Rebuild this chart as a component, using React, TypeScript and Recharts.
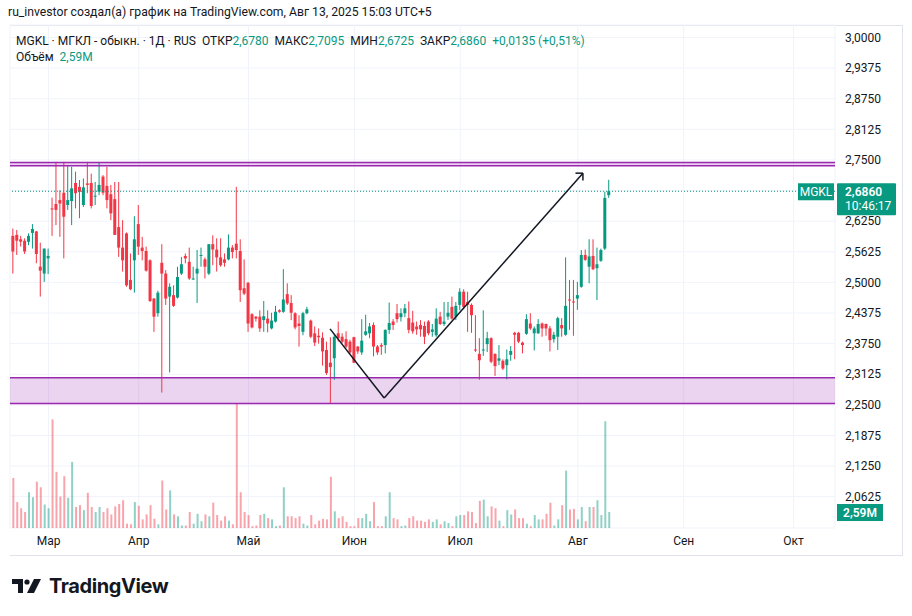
import React from 'react';
import { ComposedChart, Bar, XAxis, YAxis, CartesianGrid, ReferenceLine, ReferenceArea, Cell } from 'recharts';

// daily candles, oldest first
const opens = [
  2.595, 2.597, 2.588, 2.585, 2.583, 2.601, 2.604, 2.532, 2.518, 2.549,
  2.651, 2.660, 2.668, 2.683, 2.658, 2.666, 2.703, 2.695, 2.658, 2.702,
  2.703, 2.675, 2.685, 2.716, 2.697, 2.680, 2.670, 2.613, 2.571, 2.600,
  2.505, 2.545, 2.619, 2.571, 2.564, 2.545, 2.467, 2.437, 2.540, 2.518,
  2.471, 2.474, 2.469, 2.518, 2.554, 2.542, 2.506, 2.518, 2.554, 2.547,
  2.518, 2.578, 2.567, 2.551, 2.547, 2.547, 2.571, 2.579, 2.564, 2.488,
  2.499, 2.435, 2.430, 2.430, 2.423, 2.426, 2.406, 2.420, 2.443, 2.440,
  2.476, 2.458, 2.437, 2.416, 2.399, 2.437, 2.422, 2.396, 2.391, 2.387,
  2.362, 2.336, 2.345, 2.396, 2.389, 2.384, 2.379, 2.388, 2.369, 2.357,
  2.393, 2.396, 2.413, 2.369, 2.372, 2.372, 2.403, 2.420, 2.437, 2.429,
  2.437, 2.427, 2.418, 2.410, 2.413, 2.411, 2.420, 2.399, 2.392, 2.430,
  2.415, 2.430, 2.450, 2.430, 2.454, 2.481, 2.460, 2.454, 2.363, 2.354,
  2.362, 2.374, 2.386, 2.354, 2.340, 2.340, 2.331, 2.352, 2.397, 2.397,
  2.377, 2.395, 2.416, 2.396, 2.396, 2.416, 2.415, 2.406, 2.384, 2.389,
  2.413, 2.393, 2.465, 2.461, 2.467, 2.491, 2.556, 2.532, 2.554, 2.529,
  2.544, 2.569, 2.678,
];
const highs = [
  2.610, 2.607, 2.595, 2.590, 2.600, 2.619, 2.605, 2.581, 2.569, 2.569,
  2.673, 2.746, 2.688, 2.746, 2.739, 2.736, 2.726, 2.709, 2.712, 2.746,
  2.722, 2.705, 2.746, 2.719, 2.736, 2.699, 2.705, 2.705, 2.627, 2.602,
  2.559, 2.635, 2.658, 2.593, 2.573, 2.547, 2.468, 2.483, 2.578, 2.525,
  2.498, 2.494, 2.532, 2.552, 2.559, 2.571, 2.532, 2.566, 2.571, 2.551,
  2.578, 2.596, 2.590, 2.590, 2.559, 2.598, 2.576, 2.695, 2.588, 2.547,
  2.501, 2.437, 2.431, 2.443, 2.462, 2.443, 2.438, 2.452, 2.445, 2.527,
  2.498, 2.474, 2.439, 2.433, 2.440, 2.450, 2.424, 2.410, 2.406, 2.398,
  2.379, 2.388, 2.395, 2.420, 2.396, 2.400, 2.383, 2.389, 2.370, 2.425,
  2.434, 2.417, 2.418, 2.372, 2.376, 2.404, 2.459, 2.425, 2.456, 2.447,
  2.456, 2.461, 2.442, 2.420, 2.423, 2.420, 2.423, 2.415, 2.447, 2.440,
  2.460, 2.460, 2.471, 2.460, 2.488, 2.486, 2.481, 2.457, 2.433, 2.386,
  2.443, 2.399, 2.388, 2.355, 2.372, 2.343, 2.363, 2.370, 2.399, 2.399,
  2.379, 2.435, 2.437, 2.410, 2.425, 2.418, 2.416, 2.411, 2.399, 2.430,
  2.427, 2.551, 2.505, 2.505, 2.501, 2.566, 2.567, 2.588, 2.588, 2.571,
  2.569, 2.685, 2.7095,
];
const lows = [
  2.518, 2.556, 2.573, 2.558, 2.576, 2.569, 2.539, 2.471, 2.501, 2.517,
  2.595, 2.617, 2.593, 2.549, 2.648, 2.617, 2.651, 2.631, 2.654, 2.682,
  2.651, 2.658, 2.678, 2.678, 2.651, 2.627, 2.597, 2.552, 2.522, 2.491,
  2.484, 2.479, 2.556, 2.545, 2.522, 2.460, 2.399, 2.430, 2.275, 2.454,
  2.316, 2.450, 2.467, 2.515, 2.539, 2.505, 2.505, 2.458, 2.532, 2.508,
  2.515, 2.535, 2.522, 2.532, 2.532, 2.545, 2.549, 2.549, 2.460, 2.474,
  2.399, 2.406, 2.420, 2.399, 2.399, 2.398, 2.404, 2.418, 2.438, 2.438,
  2.454, 2.423, 2.404, 2.369, 2.392, 2.435, 2.386, 2.370, 2.375, 2.330,
  2.311, 2.253, 2.301, 2.379, 2.376, 2.366, 2.354, 2.335, 2.354, 2.352,
  2.391, 2.386, 2.349, 2.352, 2.352, 2.355, 2.395, 2.403, 2.418, 2.420,
  2.429, 2.396, 2.395, 2.393, 2.389, 2.374, 2.392, 2.389, 2.389, 2.413,
  2.411, 2.423, 2.424, 2.423, 2.443, 2.445, 2.399, 2.397, 2.358, 2.301,
  2.350, 2.358, 2.335, 2.309, 2.331, 2.321, 2.302, 2.340, 2.343, 2.376,
  2.355, 2.393, 2.403, 2.361, 2.395, 2.389, 2.391, 2.359, 2.377, 2.362,
  2.389, 2.391, 2.403, 2.391, 2.444, 2.489, 2.544, 2.498, 2.525, 2.464,
  2.542, 2.566, 2.6725,
];
const closes = [
  2.563, 2.585, 2.583, 2.563, 2.595, 2.609, 2.558, 2.524, 2.569, 2.554,
  2.649, 2.648, 2.661, 2.634, 2.668, 2.692, 2.682, 2.685, 2.694, 2.699,
  2.656, 2.677, 2.699, 2.683, 2.668, 2.641, 2.597, 2.571, 2.545, 2.494,
  2.486, 2.588, 2.573, 2.564, 2.524, 2.462, 2.430, 2.479, 2.518, 2.467,
  2.491, 2.452, 2.511, 2.537, 2.549, 2.508, 2.508, 2.528, 2.556, 2.532,
  2.578, 2.567, 2.551, 2.535, 2.540, 2.571, 2.562, 2.566, 2.484, 2.477,
  2.416, 2.408, 2.426, 2.406, 2.431, 2.416, 2.422, 2.440, 2.440, 2.465,
  2.457, 2.438, 2.408, 2.411, 2.437, 2.445, 2.389, 2.377, 2.388, 2.359,
  2.315, 2.327, 2.389, 2.386, 2.379, 2.369, 2.357, 2.336, 2.359, 2.381,
  2.400, 2.410, 2.369, 2.357, 2.369, 2.403, 2.417, 2.413, 2.425, 2.437,
  2.447, 2.403, 2.400, 2.404, 2.404, 2.389, 2.396, 2.404, 2.426, 2.415,
  2.420, 2.438, 2.426, 2.452, 2.481, 2.450, 2.454, 2.433, 2.362, 2.341,
  2.363, 2.386, 2.338, 2.329, 2.345, 2.324, 2.343, 2.360, 2.393, 2.379,
  2.372, 2.425, 2.406, 2.406, 2.415, 2.406, 2.406, 2.382, 2.393, 2.427,
  2.406, 2.452, 2.463, 2.459, 2.474, 2.556, 2.546, 2.553, 2.527, 2.537,
  2.566, 2.6725, 2.686,
];
// volume, millions
const volumes = [
  8.1, 4.2, 3.2, 2.6, 5.8, 5.0, 7.5, 6.6, 3.8, 3.2,
  17.6, 9.1, 5.1, 8.4, 4.9, 10.7, 3.4, 3.7, 2.9, 5.7,
  3.4, 2.6, 3.4, 2.6, 3.2, 2.2, 3.5, 3.9, 4.5, 0.7,
  0.6, 4.2, 3.6, 1.4, 2.2, 3.7, 1.5, 0.6, 7.7, 3.0,
  6.1, 2.2, 1.9, 0.4, 0.4, 2.6, 0.7, 2.3, 1.1, 2.2,
  1.9, 4.1, 2.1, 1.2, 1.9, 1.2, 0.6, 20.1, 5.8, 2.6,
  2.1, 0.3, 0.4, 2.1, 2.3, 1.6, 1.4, 0.3, 0.4, 6.6,
  1.9, 1.9, 1.6, 1.9, 0.7, 0.4, 2.1, 0.6, 1.2, 1.5,
  1.4, 8.3, 2.7, 1.6, 1.9, 1.0, 0.3, 0.3, 1.6, 1.6,
  2.3, 1.1, 4.2, 0.3, 0.3, 1.9, 5.8, 1.6, 1.4, 0.3,
  0.4, 1.6, 1.9, 1.2, 1.2, 1.0, 1.4, 1.0, 1.4, 0.6,
  1.1, 0.8, 0.3, 1.9, 2.1, 2.1, 2.7, 2.6, 0.8, 4.4,
  4.6, 1.9, 3.5, 3.2, 1.2, 0.3, 2.9, 2.2, 3.0, 1.6,
  1.6, 0.7, 0.3, 2.1, 1.4, 1.4, 2.3, 4.1, 0.4, 1.4,
  3.7, 9.3, 3.0, 3.1, 1.4, 3.4, 1.1, 3.4, 3.4, 4.5,
  2.1, 17.3, 2.59,
];

const monthTicks = [9, 32, 60, 87, 114, 144, 171, 199];
const monthLabels = ['Мар', 'Апр', 'Май', 'Июн', 'Июл', 'Авг', 'Сен', 'Окт'];
const priceTicks = [
  3.0, 2.9375, 2.875, 2.8125, 2.75, 2.6875, 2.625, 2.5625,
  2.5, 2.4375, 2.375, 2.3125, 2.25, 2.1875, 2.125, 2.0625,
];
const resistance = [2.738, 2.745];
const supportZone = [2.2525, 2.3055];
const arrowPath = [
  { x: 80.8, y: 2.405 },
  { x: 94.6, y: 2.264 },
  { x: 145.3, y: 2.723 },
];
const lastPrice = 2.686;
const lastVolume = 2.59;

const UP = '#089981';
const DOWN = '#f23645';
const PURPLE = '#9c27b0';
const FONT = 'Roboto, "Noto Sans", sans-serif';

const data = opens.map((o, i) => ({
  i,
  range: [lows[i], highs[i]],
  o,
  h: highs[i],
  l: lows[i],
  c: closes[i],
  v: volumes[i],
}));

const fmt = (v: number) => v.toFixed(4).replace('.', ',');
// the last-price tag covers the nearest tick label
const tickLabel = (v: number) => (Math.abs(v - lastPrice) < 0.02 ? '' : fmt(v));

const Candle = (props: any) => {
  const { x, y, width, height, payload } = props;
  const { o, h, l, c } = payload;
  const color = c >= o ? UP : DOWN;
  const k = h > l ? height / (h - l) : 0;
  const py = (v: number) => y + (h - v) * k;
  const cx = x + width / 2;
  const top = py(Math.max(o, c));
  const bot = py(Math.min(o, c));
  return (
    <g>
      <line x1={cx} x2={cx} y1={y} y2={y + height} stroke={color} strokeWidth={1} />
      <rect x={x} y={top} width={width} height={Math.max(1, bot - top)} fill={color} />
    </g>
  );
};

const PriceTag = (props: any) => {
  const { x, y, width } = props.viewBox;
  const r = x + width;
  return (
    <g fontFamily={FONT}>
      <rect x={r - 37} y={y - 8} width={36} height={17} fill={UP} />
      <text x={r - 19} y={y + 4.5} fill="#fff" fontSize={12} textAnchor="middle">MGKL</text>
      <rect x={r + 2} y={y - 8} width={59} height={32} rx={1} fill={UP} />
      <text x={r + 10} y={y + 4.5} fill="#fff" fontSize={12} fontWeight={600}>{fmt(lastPrice)}</text>
      <text x={r + 10} y={y + 19} fill="#fff" fontSize={12}>10:46:17</text>
    </g>
  );
};

const VolumeTag = (props: any) => {
  const { x, y, width } = props.viewBox;
  const r = x + width;
  return (
    <g fontFamily={FONT}>
      <rect x={r + 2} y={y - 8} width={46} height={17} fill={UP} />
      <text x={r + 25} y={y + 4.5} fill="#fff" fontSize={12} fontWeight={600} textAnchor="middle">
        {lastVolume.toFixed(2).replace('.', ',')}M
      </text>
    </g>
  );
};

const App: React.FC = () => {
  return (
    <div style={{ position: 'absolute', left: 0, top: 0, width: 912, height: 616, background: '#fff', fontFamily: FONT, color: '#131722' }}>
      <div style={{ position: 'absolute', left: 8, top: 5, fontSize: 12.2, whiteSpace: 'nowrap' }}>
        ru_investor создал(а) график на TradingView.com, Авг 13, 2025 15:03 UTC+5
      </div>
      <div style={{ position: 'absolute', left: 10, top: 25, width: 892, height: 529, borderTop: '1px solid #e0e3eb', borderRight: '1px solid #e0e3eb', borderBottom: '1px solid #e0e3eb' }} />
      <div style={{ position: 'absolute', left: 0, top: 0 }}>
        <ComposedChart width={912} height={555} data={data} margin={{ top: 25, right: 0, bottom: 0, left: 10 }}>
          <CartesianGrid stroke="#f0f3fa" />
          <XAxis
            dataKey="i"
            type="number"
            domain={[-0.84, 209.6]}
            allowDataOverflow
            ticks={monthTicks}
            tickFormatter={(v) => monthLabels[monthTicks.indexOf(v)]}
            axisLine={false}
            tickLine={false}
            tickSize={0}
            tickMargin={8}
            height={27}
            tick={{ fill: '#131722', fontSize: 12, fontFamily: FONT }}
          />
          <XAxis xAxisId="vol" dataKey="i" type="number" domain={[-0.84, 209.6]} allowDataOverflow hide />
          <YAxis
            orientation="right"
            domain={[1.9985, 3.0255]}
            allowDataOverflow
            ticks={priceTicks}
            tickFormatter={tickLabel}
            axisLine={false}
            tickLine={false}
            tickSize={0}
            tickMargin={10}
            width={77}
            tick={{ fill: '#131722', fontSize: 12, fontFamily: FONT, textAnchor: 'start' }}
          />
          <YAxis yAxisId="vol" domain={[0, 81.5]} allowDataOverflow hide />
          <ReferenceArea y1={supportZone[0]} y2={supportZone[1]} fill={PURPLE} fillOpacity={0.2} stroke="none" />
          <ReferenceArea y1={resistance[0]} y2={resistance[1]} fill={PURPLE} fillOpacity={0.2} stroke="none" />
          {[...supportZone, ...resistance].map((p) => (
            <ReferenceLine key={p} y={p} stroke={PURPLE} strokeWidth={1.5} />
          ))}
          <Bar xAxisId="vol" yAxisId="vol" dataKey="v" barSize={2} isAnimationActive={false}>
            {data.map((d) => (
              <Cell key={d.i} fill={d.c >= d.o ? UP : DOWN} fillOpacity={0.45} />
            ))}
          </Bar>
          <Bar dataKey="range" barSize={3} shape={Candle} isAnimationActive={false} />
          <ReferenceLine y={lastPrice} stroke={UP} strokeDasharray="1 2" label={<PriceTag />} />
          <ReferenceLine xAxisId="vol" yAxisId="vol" y={lastVolume} stroke="none" label={<VolumeTag />} />
          <ReferenceLine segment={[arrowPath[0], arrowPath[1]]} stroke="#131722" strokeWidth={1.5} />
          <ReferenceLine segment={[arrowPath[1], arrowPath[2]]} stroke="#131722" strokeWidth={1.5} />
          <ReferenceLine segment={[arrowPath[2], { x: arrowPath[2].x - 1.9, y: arrowPath[2].y }]} stroke="#131722" strokeWidth={1.5} />
          <ReferenceLine segment={[arrowPath[2], { x: arrowPath[2].x, y: arrowPath[2].y - 0.015 }]} stroke="#131722" strokeWidth={1.5} />
        </ComposedChart>
      </div>
      <div style={{ position: 'absolute', left: 16, top: 34, fontSize: 12, whiteSpace: 'nowrap' }}>
        MGKL · МГКЛ - обыкн. · 1Д · RUS&nbsp;&nbsp;ОТКР<span style={{ color: UP }}>2,6780</span>&nbsp;&nbsp;МАКС<span style={{ color: UP }}>2,7095</span>&nbsp;&nbsp;МИН<span style={{ color: UP }}>2,6725</span>&nbsp;&nbsp;ЗАКР<span style={{ color: UP }}>2,6860</span>&nbsp;&nbsp;<span style={{ color: UP }}>+0,0135 (+0,51%)</span>
      </div>
      <div style={{ position: 'absolute', left: 16, top: 50, fontSize: 12, whiteSpace: 'nowrap' }}>
        Объём&nbsp;&nbsp;<span style={{ color: UP }}>2,59M</span>
      </div>
      <div style={{ position: 'absolute', left: 12, top: 574, display: 'flex', alignItems: 'center' }}>
        <svg width={30} height={14} viewBox="0 0 30 14">
          <path d="M0 0H11V14H6V5H0Z" fill="#131722" />
          <circle cx={15} cy={3} r={2.6} fill="#131722" />
          <path d="M22 0H29L22 14H15Z" fill="#131722" />
        </svg>
        <span style={{ marginLeft: 7, fontFamily: 'Inter, sans-serif', fontWeight: 700, fontSize: 20, letterSpacing: -0.4, color: '#131722' }}>
          TradingView
        </span>
      </div>
    </div>
  );
};

export default App;
